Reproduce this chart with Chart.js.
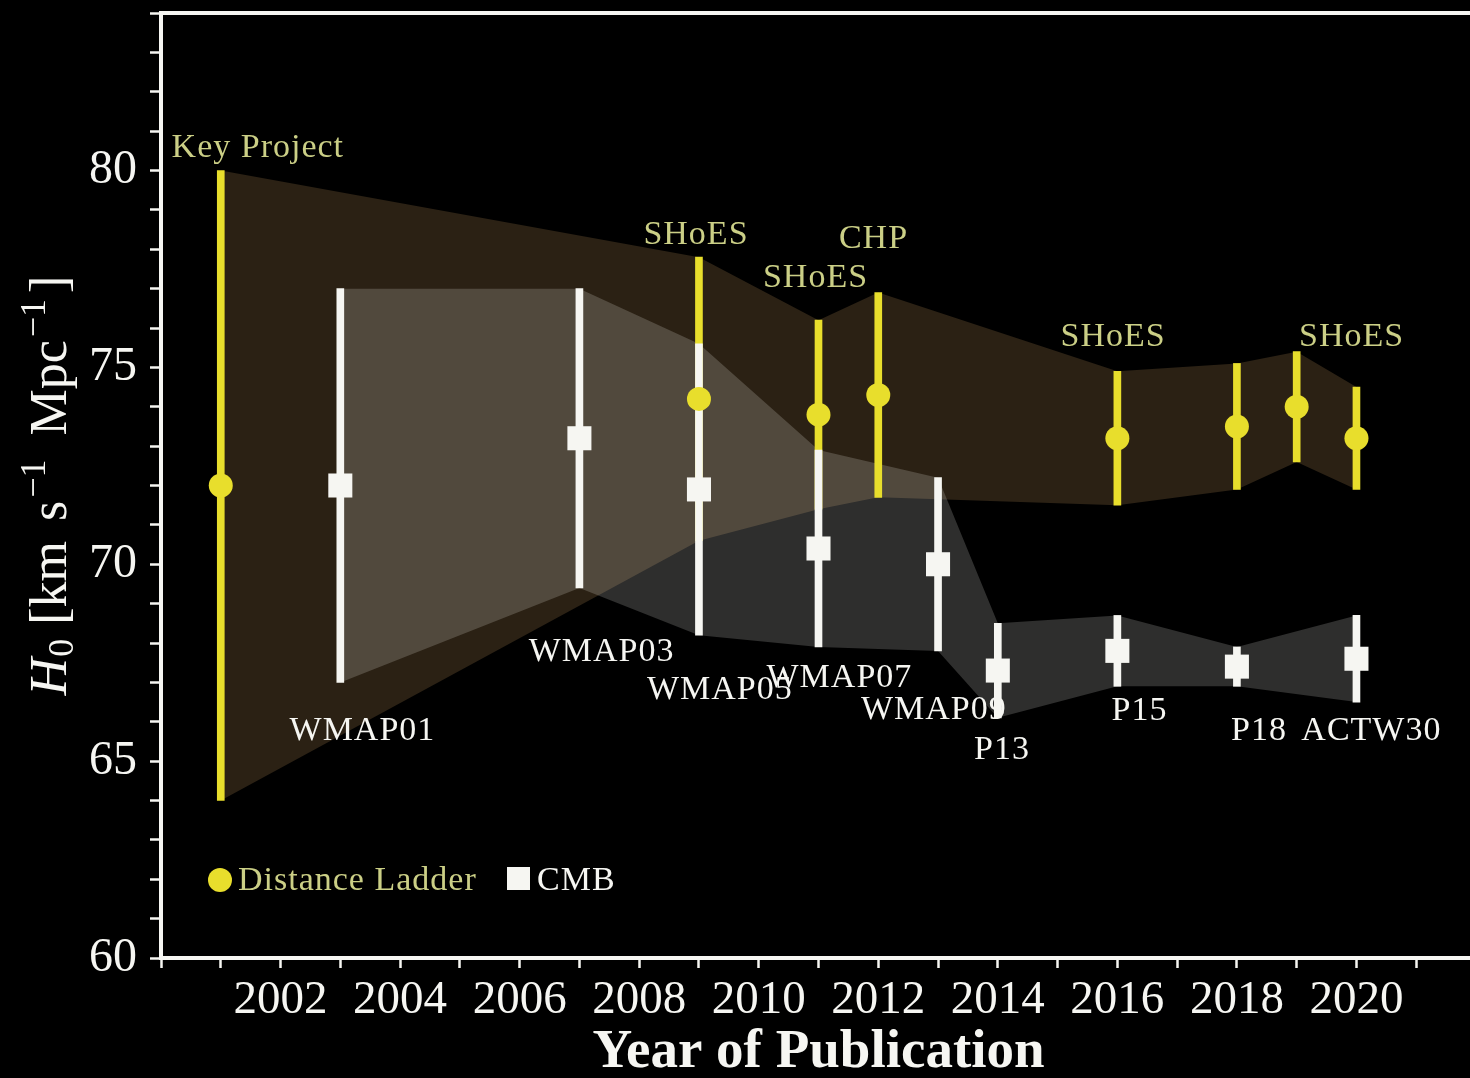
<!DOCTYPE html>
<html>
<head>
<meta charset="utf-8">
<title>H0 measurements by year of publication</title>
<script src="https://cdn.jsdelivr.net/npm/chart.js@4.4.1/dist/chart.umd.min.js"></script>
<style>
  html, body { margin: 0; padding: 0; background: #000; overflow: hidden; }
  canvas { display: block; }
</style>
</head>
<body>
<canvas id="h0Chart" width="1476" height="1100"></canvas>
<script>
// distance ladder measurements: year, H0, error bar half-length
const ladderYears = [2001, 2009, 2011, 2012, 2016, 2018, 2019, 2020];
const ladderH0    = [72.0, 74.2, 73.8, 74.3, 73.2, 73.5, 74.0, 73.2];
const ladderErr   = [8.0, 3.6, 2.4, 2.6, 1.7, 1.6, 1.4, 1.3];
const ladderNames = ['Key Project', 'SHoES', 'SHoES', 'CHP', 'SHoES', '', '', 'SHoES'];

// CMB measurements
const cmbYears = [2003, 2007, 2009, 2011, 2013, 2014, 2016, 2018, 2020];
const cmbH0    = [72.0, 73.2, 71.9, 70.4, 70.0, 67.3, 67.8, 67.4, 67.6];
const cmbErr   = [5.0, 3.8, 3.7, 2.5, 2.2, 1.2, 0.9, 0.5, 1.1];
const cmbNames = ['WMAP01', 'WMAP03', 'WMAP05', 'WMAP07', 'WMAP09', 'P13', 'P15', 'P18', 'ACTW30'];

// where each name is written, in (year, H0) units
const ladderNameAt = [[2001.62, 80.56], [2008.95, 78.35], [2010.95, 77.26], [2011.92, 78.27],
                      [2015.93, 75.76], null, null, [2019.92, 75.76]];
const cmbNameAt = [[2003.37, 65.76], [2007.37, 67.77], [2009.35, 66.8], [2011.35, 67.1],
                   [2012.93, 66.3], [2014.07, 65.28], [2016.37, 66.27], [2018.37, 65.76], [2020.25, 65.76]];

const yearLabels = [2002, 2004, 2006, 2008, 2010, 2012, 2014, 2016, 2018, 2020];
const h0Labels   = [60, 65, 70, 75, 80];

const SERIF  = '"Liberation Serif", "DejaVu Serif", serif';
const YELLOW = '#e8de2c';
const WHITE  = '#f6f6f2';
const KHAKI  = '#cbcf86';

const pts   = (xs, ys) => xs.map((x, i) => ({ x, y: ys[i] }));
const upper = (c, e) => c.map((v, i) => v + e[i]);
const lower = (c, e) => c.map((v, i) => v - e[i]);
const spans = (xs, c, e) => xs.map((x, i) => ({ x, y: [c[i] - e[i], c[i] + e[i]] }));

const bandStyle = { type: 'line', borderWidth: 0, pointRadius: 0, tension: 0 };
const barStyle  = { type: 'bar', grouped: false, barThickness: 7, maxBarThickness: 7, borderWidth: 0 };

function drawNames(chart, names, where, color) {
  const { ctx, scales: { x, y } } = chart;
  ctx.fillStyle = color;
  names.forEach((name, i) => {
    if (!name || !where[i]) return;
    ctx.fillText(name, x.getPixelForValue(where[i][0]), y.getPixelForValue(where[i][1]));
  });
}

function drawYTitle(chart) {
  const ctx = chart.ctx;
  const area = chart.chartArea;
  const big = '52px ' + SERIF, small = '36px ' + SERIF;
  const parts = [
    { t: 'H',   f: 'italic 52px ' + SERIF, dy: 0,   gap: 1 },
    { t: '0',   f: small, dy: 7,   gap: 14 },
    { t: '[km', f: big,   dy: 0,   gap: 20 },
    { t: 's',   f: big,   dy: 0,   gap: 3 },
    { t: '\u22121', f: small, dy: -21, gap: 24 },
    { t: 'Mpc', f: big,   dy: 0,   gap: 3 },
    { t: '\u22121', f: small, dy: -21, gap: 6 },
    { t: ']',   f: big,   dy: 0,   gap: 0 }
  ];
  let total = 0;
  parts.forEach(p => { ctx.font = p.f; p.w = ctx.measureText(p.t).width; total += p.w + p.gap; });
  ctx.save();
  ctx.translate(66, (area.top + area.bottom) / 2);
  ctx.rotate(-Math.PI / 2);
  ctx.fillStyle = WHITE;
  ctx.textBaseline = 'alphabetic';
  ctx.textAlign = 'left';
  let pos = -total / 2;
  parts.forEach(p => { ctx.font = p.f; ctx.fillText(p.t, pos, p.dy); pos += p.w + p.gap; });
  ctx.restore();
}

const overlay = {
  id: 'overlay',
  afterDatasetsDraw(chart) {
    const { ctx, chartArea: a } = chart;
    ctx.save();
    ctx.font = '34px ' + SERIF;
    ctx.letterSpacing = '1px';
    ctx.textAlign = 'center';
    ctx.textBaseline = 'middle';
    drawNames(chart, ladderNames, ladderNameAt, KHAKI);
    drawNames(chart, cmbNames, cmbNameAt, WHITE);

    // legend, lower left corner of the plot
    const ly = a.bottom - 78;
    ctx.fillStyle = YELLOW;
    ctx.beginPath();
    ctx.arc(a.left + 59, ly, 12, 0, Math.PI * 2);
    ctx.fill();
    ctx.textAlign = 'left';
    ctx.fillStyle = KHAKI;
    ctx.fillText('Distance Ladder', a.left + 77, ly + 1);
    ctx.fillStyle = WHITE;
    ctx.fillRect(a.left + 346, ly - 13, 23, 23);
    ctx.fillText('CMB', a.left + 376, ly + 1);

    // top and right edges of the frame
    ctx.strokeStyle = WHITE;
    ctx.lineWidth = 4;
    ctx.beginPath();
    ctx.moveTo(a.left - 2, a.top);
    ctx.lineTo(a.right, a.top);
    ctx.lineTo(a.right, a.bottom);
    ctx.stroke();
    ctx.restore();
  },
  afterDraw(chart) {
    drawYTitle(chart);
  }
};

new Chart(document.getElementById('h0Chart'), {
  type: 'scatter',
  data: {
    datasets: [
      { ...bandStyle, data: pts(ladderYears, upper(ladderH0, ladderErr)), fill: '+1',
        backgroundColor: 'rgba(170,130,80,0.25)', order: 6 },
      { ...bandStyle, data: pts(ladderYears, lower(ladderH0, ladderErr)), fill: false, order: 6 },
      { ...bandStyle, data: pts(cmbYears, upper(cmbH0, cmbErr)), fill: '+1',
        backgroundColor: 'rgba(255,255,250,0.18)', order: 5 },
      { ...bandStyle, data: pts(cmbYears, lower(cmbH0, cmbErr)), fill: false, order: 5 },
      { ...barStyle, data: spans(ladderYears, ladderH0, ladderErr), backgroundColor: YELLOW, order: 4 },
      { ...barStyle, data: spans(cmbYears, cmbH0, cmbErr), backgroundColor: WHITE, order: 3 },
      { type: 'scatter', data: pts(ladderYears, ladderH0), pointStyle: 'circle', pointRadius: 12,
        backgroundColor: YELLOW, borderWidth: 0, order: 2 },
      { type: 'scatter', data: pts(cmbYears, cmbH0), pointStyle: 'rect', pointRadius: 17,
        backgroundColor: WHITE, borderWidth: 0, order: 1 }
    ]
  },
  options: {
    responsive: false,
    devicePixelRatio: 1,
    animation: false,
    events: [],
    layout: { autoPadding: false, padding: { top: 13, left: 0, right: 0, bottom: 0 } },
    plugins: { legend: { display: false }, tooltip: { enabled: false } },
    scales: {
      x: {
        type: 'linear', min: 2000, max: 2022, offset: false,
        afterFit(s) { s.height = 142; s.paddingLeft = 0; s.paddingRight = 0; },
        border: { color: WHITE, width: 4 },
        grid: { drawOnChartArea: false, offset: false, color: WHITE, tickLength: 10, tickWidth: 2.5 },
        ticks: {
          stepSize: 1, autoSkip: false, maxRotation: 0, padding: 4, color: WHITE,
          font: { family: SERIF, size: 47 },
          callback: v => yearLabels.includes(v) ? String(v) : ''
        },
        title: {
          display: true, text: 'Year of Publication', color: WHITE,
          font: { family: SERIF, size: 55, weight: 'bold' }, padding: { top: 0, bottom: 14 }
        }
      },
      y: {
        min: 60, max: 84, beginAtZero: false,
        afterFit(s) { s.width = 161; s.paddingTop = 0; s.paddingBottom = 0; },
        border: { color: WHITE, width: 4 },
        grid: { drawOnChartArea: false, color: WHITE, tickLength: 11, tickWidth: 2.5 },
        ticks: {
          stepSize: 1, autoSkip: false, padding: 13, color: WHITE,
          font: { family: SERIF, size: 48 },
          callback: v => h0Labels.includes(v) ? String(v) : ''
        }
      }
    }
  },
  plugins: [overlay]
});
</script>
</body>
</html>
